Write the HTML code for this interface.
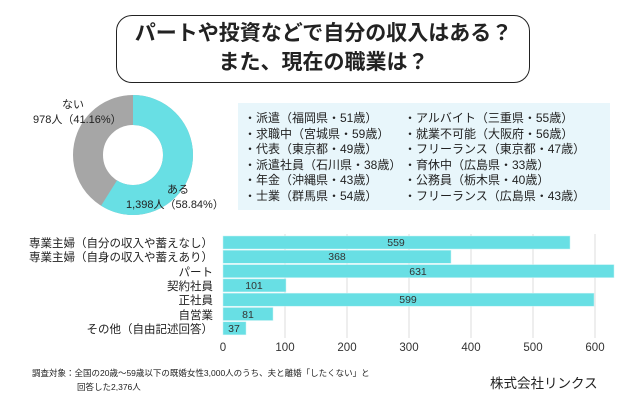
<!DOCTYPE html>
<html><head><meta charset="utf-8"><style>
body{margin:0;width:640px;height:404px;background:#fff;overflow:hidden;font-family:"Liberation Sans","Noto Sans CJK JP",sans-serif;color:#222;position:relative}
.a{position:absolute;white-space:nowrap}
</style></head><body>
<div class="a" style="left:116px;top:15px;width:412px;height:66px;border:1.5px solid #222;border-radius:16px"></div>
<div class="a" style="left:116px;top:19px;width:415px;text-align:center;font-weight:bold;font-size:21px;line-height:29px">パートや投資などで自分の収入はある？<br>また、現在の職業は？</div>

<svg class="a" style="left:0;top:0" width="640" height="404">
<circle cx="133" cy="155" r="45" fill="none" stroke="#a6a6a6" stroke-width="30"/>
<circle cx="133" cy="155" r="45" fill="none" stroke="#68dfe4" stroke-width="30" stroke-dasharray="166.37 400" transform="rotate(-90 133 155)"/>
<rect x="238" y="103" width="372" height="107" fill="#e8f6fb"/>
<g stroke="#ddd" stroke-width="1">
<line x1="285" y1="234" x2="285" y2="338"/><line x1="347" y1="234" x2="347" y2="338"/><line x1="409" y1="234" x2="409" y2="338"/><line x1="471" y1="234" x2="471" y2="338"/><line x1="533" y1="234" x2="533" y2="338"/><line x1="595" y1="234" x2="595" y2="338"/>
</g>
<g fill="#68dfe4" stroke="#c8f2f4" stroke-width="0.5">
<rect x="223" y="236" width="347" height="13"/>
<rect x="223" y="250.3" width="228" height="13"/>
<rect x="223" y="264.6" width="391" height="13"/>
<rect x="223" y="278.9" width="63" height="13"/>
<rect x="223" y="293.2" width="371" height="13"/>
<rect x="223" y="307.5" width="50" height="13"/>
<rect x="223" y="321.8" width="23" height="13"/>
</g>
<g font-size="10.5" text-anchor="middle" fill="#333" font-family="Liberation Sans, sans-serif">
<text x="396" y="246">559</text><text x="337" y="260">368</text><text x="418" y="275">631</text><text x="254" y="289">101</text><text x="408" y="303">599</text><text x="248" y="318">81</text><text x="234" y="332">37</text>
</g>
<g font-size="11.5" text-anchor="middle" fill="#333" font-family="Liberation Sans, sans-serif">
<text x="223" y="351">0</text><text x="285" y="351">100</text><text x="347" y="351">200</text><text x="409" y="351">300</text><text x="471" y="351">400</text><text x="533" y="351">500</text><text x="595" y="351">600</text>
</g>
<g font-size="11.5" text-anchor="end" fill="#222" font-family="Liberation Sans, Noto Sans CJK JP, sans-serif">
<text x="213" y="247">専業主婦（自分の収入や蓄えなし）</text>
<text x="213" y="261">専業主婦（自身の収入や蓄えあり）</text>
<text x="213" y="276">パート</text>
<text x="213" y="290">契約社員</text>
<text x="213" y="304">正社員</text>
<text x="213" y="319">自営業</text>
<text x="213" y="333">その他（自由記述回答）</text>
</g>
</svg>

<div class="a" style="left:62px;top:96px;font-size:11px">ない</div>
<div class="a" style="left:33px;top:111px;font-size:11px">978人（41.16%）</div>
<div class="a" style="left:167px;top:181px;font-size:11px">ある</div>
<div class="a" style="left:126px;top:196px;font-size:11px">1,398人（58.84%）</div>

<div class="a" style="left:244px;top:111px;font-size:12px;line-height:15.6px">・派遣（福岡県・51歳）<br>・求職中（宮城県・59歳）<br>・代表（東京都・49歳）<br>・派遣社員（石川県・38歳）<br>・年金（沖縄県・43歳）<br>・士業（群馬県・54歳）</div>
<div class="a" style="left:404px;top:111px;font-size:12px;line-height:15.6px">・アルバイト（三重県・55歳）<br>・就業不可能（大阪府・56歳）<br>・フリーランス（東京都・47歳）<br>・育休中（広島県・33歳）<br>・公務員（栃木県・40歳）<br>・フリーランス（広島県・43歳）</div>

<div class="a" style="left:32px;top:366px;font-size:8.5px;line-height:14px">調査対象：全国の20歳～59歳以下の既婚女性3,000人のうち、夫と離婚「したくない」と<br><span style="padding-left:45px">回答した2,376人</span></div>
<div class="a" style="left:490px;top:372px;font-size:13.5px">株式会社リンクス</div>
</body></html>
